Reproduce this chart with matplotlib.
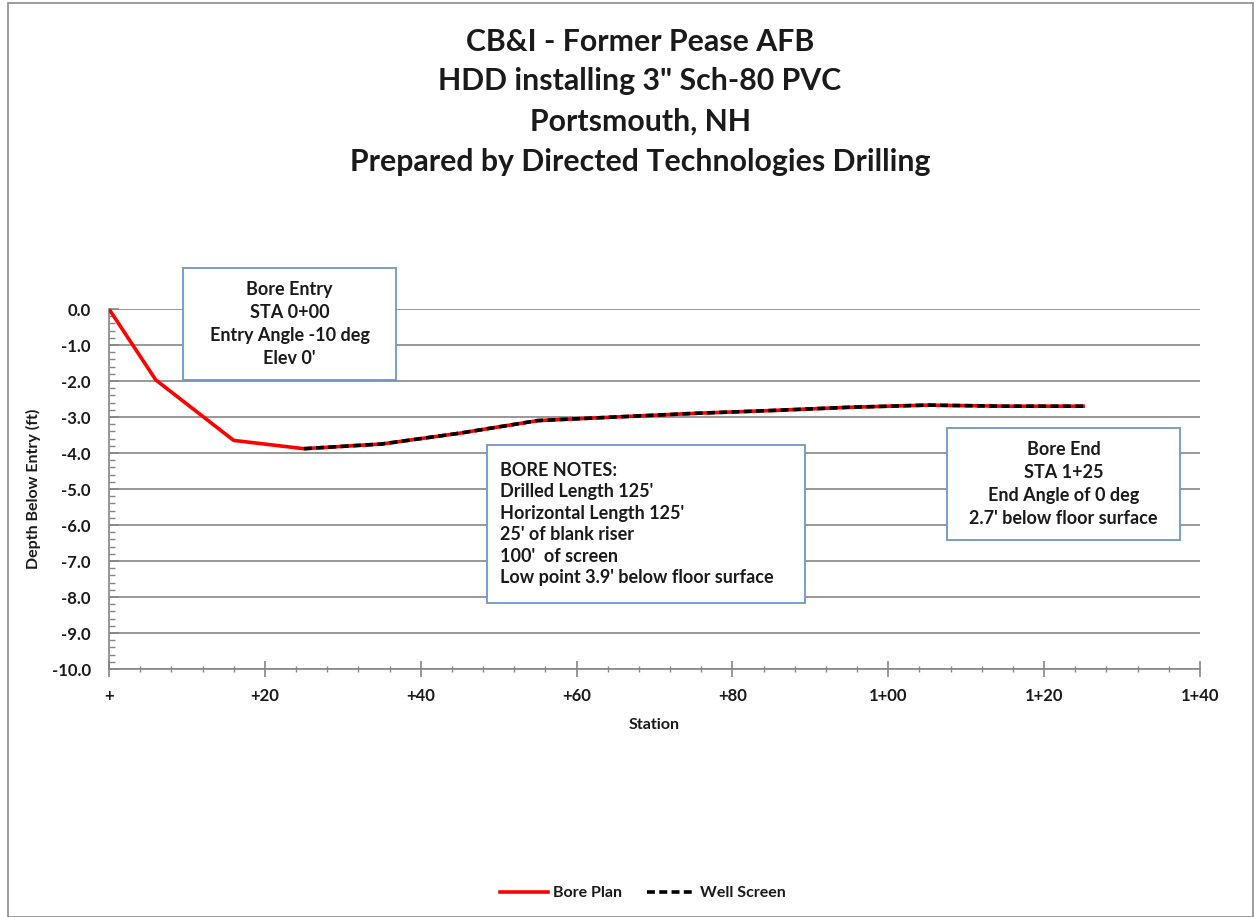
import matplotlib
matplotlib.use("Agg")
import matplotlib.pyplot as plt
from matplotlib.ticker import MultipleLocator
from matplotlib.patches import Rectangle

plt.rcParams['font.family'] = ['Lato', 'DejaVu Sans']
plt.rcParams['font.weight'] = 'bold'

# Data
bore_x = [0, 6, 16, 25, 35, 45, 55, 65, 75, 85, 95, 105, 115, 125]
bore_y = [0.0, -1.97, -3.65, -3.88, -3.75, -3.45, -3.1, -3.0, -2.9, -2.82, -2.73, -2.67, -2.7, -2.7]
screen_x = [25, 35, 45, 55, 65, 75, 85, 95, 105, 115, 125]
screen_y = [-3.88, -3.75, -3.45, -3.1, -3.0, -2.9, -2.82, -2.73, -2.67, -2.7, -2.7]
xticks = [0, 20, 40, 60, 80, 100, 120, 140]
xticklabels = ['+', '+20', '+40', '+60', '+80', '1+00', '1+20', '1+40']
yticks = [0, -1, -2, -3, -4, -5, -6, -7, -8, -9, -10]
title_lines = ['CB&I - Former Pease AFB', 'HDD installing 3" Sch-80 PVC',
               'Portsmouth, NH', 'Prepared by Directed Technologies Drilling']

W, H = 1255, 917
fig = plt.figure(figsize=(W/100, H/100), dpi=100)
ax = fig.add_axes([109/W, 1-669/H, (1200-109)/W, (669-309)/H])

ax.plot(bore_x, bore_y, color='#FF0000', lw=2.6, label='Bore Plan', zorder=3)
ax.plot(screen_x, screen_y, color='black', lw=2.6, ls=(0, (2.2, 1.2)), label='Well Screen', zorder=4)

ax.set_xlim(0, 140)
ax.set_ylim(-10, 0)
ax.set_xticks(xticks)
ax.set_xticklabels(xticklabels)
ax.xaxis.set_minor_locator(MultipleLocator(4))
ax.set_yticks(yticks)
ax.set_yticklabels([f'{v:.1f}' for v in yticks])
ax.yaxis.set_minor_locator(MultipleLocator(0.2))
ax.grid(axis='y', color='#868686', lw=1.2)
ax.set_axisbelow(True)
for s in ['top', 'right']:
    ax.spines[s].set_visible(False)
for s in ['left', 'bottom']:
    ax.spines[s].set_color('#868686')
    ax.spines[s].set_linewidth(1.2)
ax.tick_params(axis='both', which='major', length=7, color='#868686', width=1.2, labelsize=12, labelcolor='#1a1a1a')
ax.tick_params(axis='both', which='minor', length=4, color='#868686', width=1)
ax.tick_params(axis='x', which='both', direction='inout')
ax.tick_params(axis='y', which='both', direction='in')
ax.tick_params(axis='x', which='major', length=12, pad=8)
ax.tick_params(axis='y', which='major', pad=13)
ax.set_xlabel('Station', fontsize=11.5, fontweight='bold', labelpad=10, color='#1a1a1a')
ax.set_ylabel('Depth Below Entry (ft)', fontsize=11.5, fontweight='bold', labelpad=8, color='#1a1a1a')

# Title
ys = [42, 81, 122, 162]
for t, yy in zip(title_lines, ys):
    fig.text(640/W, 1-yy/H, t, ha='center', va='center', fontsize=21.8, fontweight='bold', color='#1a1a1a')

# Boxes
def box(x0, y0, x1, y1, lines, align='center', x_text=None, line_h=None):
    r = Rectangle((x0/W, 1-y1/H), (x1-x0)/W, (y1-y0)/H, transform=fig.transFigure,
                  facecolor='white', edgecolor='#6F95C8', lw=1.3, zorder=5)
    fig.add_artist(r)
    n = len(lines)
    cy = (y0+y1)/2
    for i, l in enumerate(lines):
        yy = cy + (i-(n-1)/2)*line_h
        xx = (x0+x1)/2 if align == 'center' else x_text
        fig.text(xx/W, 1-yy/H, l, ha=align, va='center', fontsize=13, fontweight='bold', color='#1a1a1a', zorder=6)

box(183, 268, 396, 380, ['Bore Entry', 'STA 0+00', 'Entry Angle -10 deg', "Elev 0'"], line_h=23)
box(487, 445, 805, 603, ['BORE NOTES:', "Drilled Length 125'", "Horizontal Length 125'",
                         "25' of blank riser", "100'  of screen", "Low point 3.9' below floor surface"],
    align='left', x_text=500, line_h=21.5)
box(947, 428, 1180, 540, ['Bore End', 'STA 1+25', 'End Angle of 0 deg', "2.7' below floor surface"], line_h=23)

# Legend
leg = fig.legend(loc='center', bbox_to_anchor=(643/W, 1-893/H), ncol=2, frameon=False,
                 fontsize=11.5, handlelength=3.0, columnspacing=1.6, handletextpad=0.3)
for t in leg.get_texts():
    t.set_color('#1a1a1a')

# figure border
fig.add_artist(Rectangle((8/W, 0), (W-10)/W, 1-3/H, transform=fig.transFigure,
                         facecolor='none', edgecolor='#8c8c8c', lw=1.2))

fig.savefig('out.png', dpi=100)
